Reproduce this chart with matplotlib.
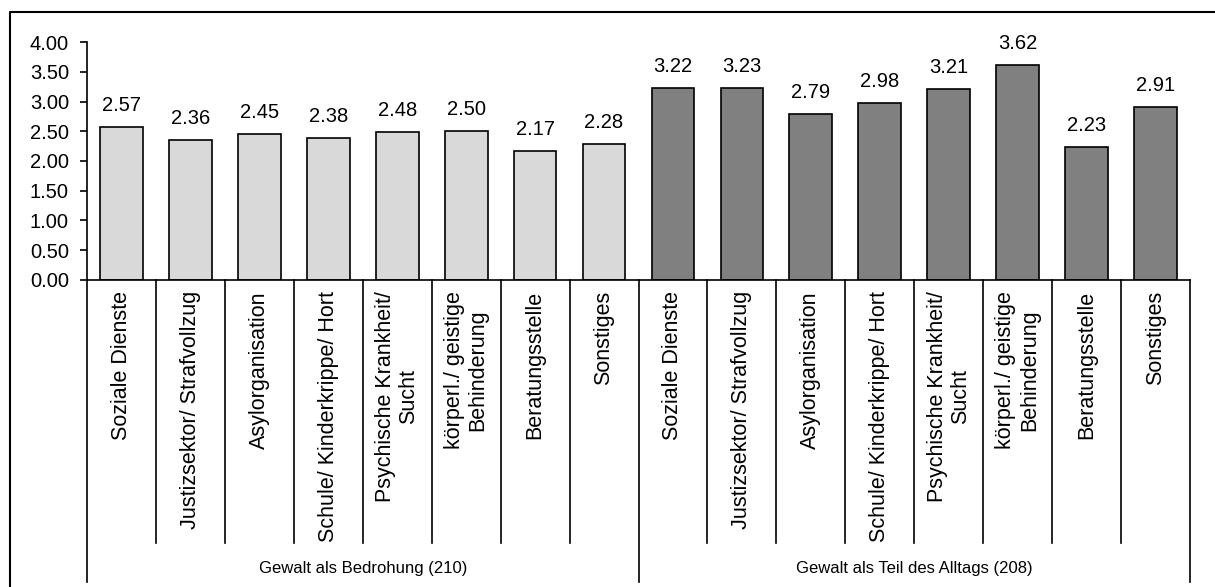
import matplotlib
matplotlib.use("Agg")
import matplotlib.pyplot as plt
from matplotlib.lines import Line2D
import matplotlib.transforms as mtransforms

plt.rcParams['font.family'] = ['Liberation Sans', 'DejaVu Sans']

categories = ["Soziale Dienste", "Justizsektor/ Strafvollzug", "Asylorganisation",
              "Schule/ Kinderkrippe/ Hort", "Psychische Krankheit/\nSucht",
              "körperl./ geistige\nBehinderung", "Beratungsstelle", "Sonstiges"]
groups = ["Gewalt als Bedrohung (210)", "Gewalt als Teil des Alltags (208)"]
values_threat = [2.57, 2.36, 2.45, 2.38, 2.48, 2.50, 2.17, 2.28]
values_daily = [3.22, 3.23, 2.79, 2.98, 3.21, 3.62, 2.23, 2.91]
yticks = [0.0, 0.5, 1.0, 1.5, 2.0, 2.5, 3.0, 3.5, 4.0]

W, H = 1215, 587
fig = plt.figure(figsize=(W / 100, H / 100), dpi=100)
ax = fig.add_axes([87 / W, 1 - 280 / H, (1190 - 87) / W, (280 - 42) / H])

all_vals = values_threat + values_daily
colors = ["#D9D9D9"] * len(values_threat) + ["#808080"] * len(values_daily)
xs = list(range(len(all_vals)))
ax.bar(xs, all_vals, width=0.62, color=colors, edgecolor="black", linewidth=1.2, zorder=2)
for x, v in zip(xs, all_vals):
    ax.annotate(f"{v:.2f}", (x, v), xytext=(0, 11.5), textcoords="offset points",
                ha="center", va="baseline", fontsize=14.5)

ax.set_xlim(-0.5, len(all_vals) - 0.5)
ax.set_ylim(0, 4)
ax.set_yticks(yticks)
ax.set_yticklabels([f"{t:.2f}" for t in yticks], fontsize=14.5)
ax.tick_params(axis="y", length=5, width=1.2, pad=8, direction="out")
ax.set_xticks([])
for s in ["top", "right"]:
    ax.spines[s].set_visible(False)
ax.spines["left"].set_linewidth(1.2)
ax.spines["bottom"].set_linewidth(1.2)

trans = mtransforms.blended_transform_factory(ax.transData, fig.transFigure)
y_axis = 1 - 280 / H
y_cat = 1 - 543 / H
y_grp = 1 - 582 / H
n = len(categories)
for i in range(len(all_vals) + 1):
    xb = i - 0.5
    yb = y_grp if i % n == 0 else y_cat
    fig.add_artist(Line2D([xb, xb], [y_axis, yb], transform=trans, color="black", lw=1.2))

all_labels = categories + categories
for x, lab in zip(xs, all_labels):
    fig.text(x, 1 - 291 / H, lab, transform=trans, rotation=90, ha="center", va="top",
             fontsize=15.5, multialignment="center", linespacing=1.15)

for g, name in enumerate(groups):
    cx = g * n + (n - 1) / 2
    fig.text(cx, 1 - 568 / H, name, transform=trans, ha="center", va="center", fontsize=12)

# outer border (left and top visible)
fig.add_artist(Line2D([10 / W, 10 / W, 1.0], [0.0, 1 - 12 / H, 1 - 12 / H],
                      transform=fig.transFigure, color="black", lw=1.5))

fig.savefig("out.png", dpi=100)
